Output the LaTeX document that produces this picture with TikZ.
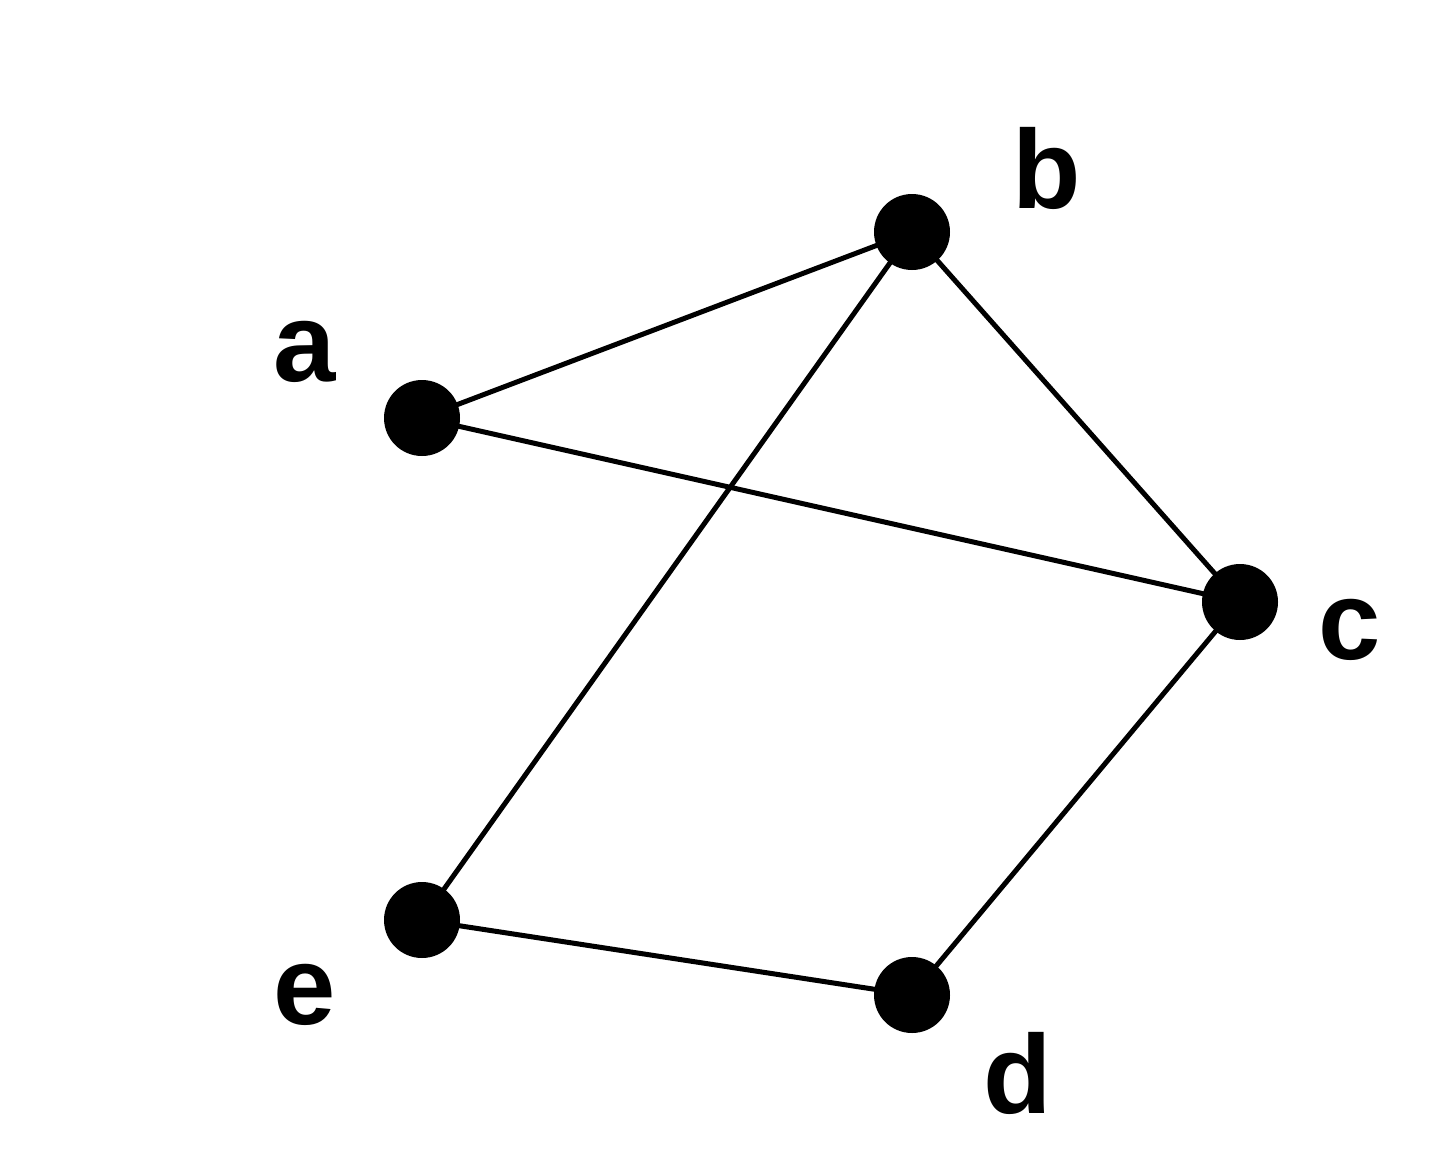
\documentclass[tikz,border=0pt]{standalone}
\usepackage{fontspec}
\setmainfont{Liberation Sans}
\begin{document}
\begin{tikzpicture}[x=1pt,y=-1pt,
  vtx/.style={circle,fill=black,inner sep=0pt,minimum size=76pt},
  lbl/.style={font=\fontsize{112}{134}\selectfont\bfseries,inner sep=0pt},
  edge/.style={line width=5pt}]
\useasboundingbox (0,0) rectangle (1440,1164);
\node[vtx] (a) at (422,418) {};
\node[vtx] (b) at (912,232) {};
\node[vtx] (c) at (1240,602) {};
\node[vtx] (d) at (912,995) {};
\node[vtx] (e) at (422,920) {};
\node[lbl] (la) at (305,352) {a};
\node[lbl] (lb) at (1047,168) {b};
\node[lbl] (lc) at (1350,630) {c};
\node[lbl] (ld) at (1018,1073) {d};
\node[lbl] (le) at (305,995) {e};
\draw[edge] (a.center) -- (b.center);
\draw[edge] (a.center) -- (c.center);
\draw[edge] (b.center) -- (c.center);
\draw[edge] (b.center) -- (e.center);
\draw[edge] (c.center) -- (d.center);
\draw[edge] (e.center) -- (d.center);
\end{tikzpicture}
\end{document}
